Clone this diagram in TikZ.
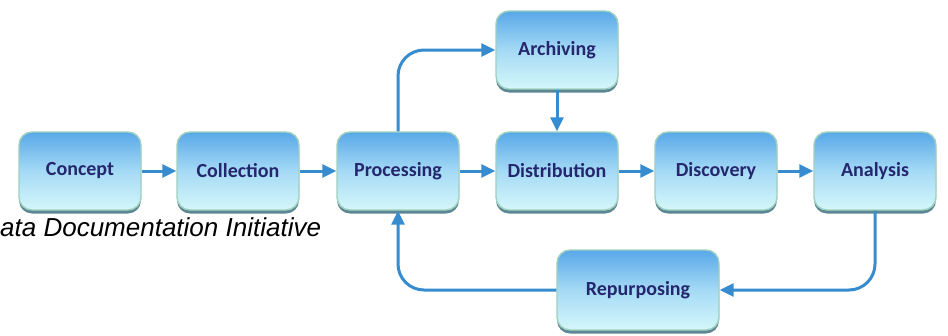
\documentclass[tikz,border=0pt]{standalone}
\usepackage{fontspec}
\newfontfamily\stagefont{Carlito}
\newfontfamily\capfont{Liberation Sans}
\usetikzlibrary{arrows.meta,shadows,fadings}

\definecolor{flowblue}{RGB}{55,140,208}
\definecolor{stagetext}{RGB}{36,38,110}
\definecolor{stagetop}{RGB}{88,168,232}
\definecolor{stagemid}{RGB}{165,218,245}
\definecolor{stagebot}{RGB}{212,247,250}
\definecolor{stageedge}{RGB}{160,208,190}
\definecolor{stageshadow}{RGB}{50,105,122}

\tikzset{
  stage/.style={
    rounded corners=13pt,
    minimum width=122pt, minimum height=78pt,
    draw=stageedge, line width=1.4pt,
    top color=stagetop, bottom color=stagebot, middle color=stagemid,
    drop shadow={shadow xshift=0pt, shadow yshift=-3.5pt,
                 fill=stageshadow, opacity=0.8},
    font=\stagefont\bfseries\fontsize{20}{24}\selectfont,
    text=stagetext, inner sep=0pt
  },
  flow/.style={
    draw=flowblue, line width=3pt,
    -{Triangle[length=14pt,width=13pt]}
  },
  roundflow/.style={flow, rounded corners=26pt}
}

\begin{document}
\begin{tikzpicture}[x=1pt,y=-1pt]
  \useasboundingbox (0,0) rectangle (948,335);

  % stages of the life cycle
  \node[stage] (concept)      at (80,171)  {Concept};
  \node[stage] (collection)   at (238,171) {Collection};
  \node[stage] (processing)   at (398,171) {Processing};
  \node[stage] (distribution) at (557,171) {Distribution};
  \node[stage] (discovery)    at (716,171) {Discovery};
  \node[stage] (analysis)     at (875,171) {Analysis};
  \node[stage] (archiving)    at (557,50)  {Archiving};
  \node[stage, minimum width=162pt, minimum height=80pt]
       (repurposing) at (638,290) {Repurposing};

  % main row
  \draw[flow] (concept)      -- (collection);
  \draw[flow] (collection)   -- (processing);
  \draw[flow] (processing)   -- (distribution);
  \draw[flow] (distribution) -- (discovery);
  \draw[flow] (discovery)    -- (analysis);

  % archiving branch
  \draw[roundflow] (processing.north) |- (archiving.west);
  \draw[flow] (archiving) -- (distribution);

  % repurposing loop
  \draw[roundflow] (analysis.south) |- (repurposing.east);
  \draw[roundflow] (repurposing.west) -| (processing.south);

  % caption
  \node[anchor=base west, inner sep=0pt,
        font=\capfont\itshape\fontsize{26}{30}\selectfont]
       (caption) at (0,236) {ata Documentation Initiative};
\end{tikzpicture}
\end{document}
